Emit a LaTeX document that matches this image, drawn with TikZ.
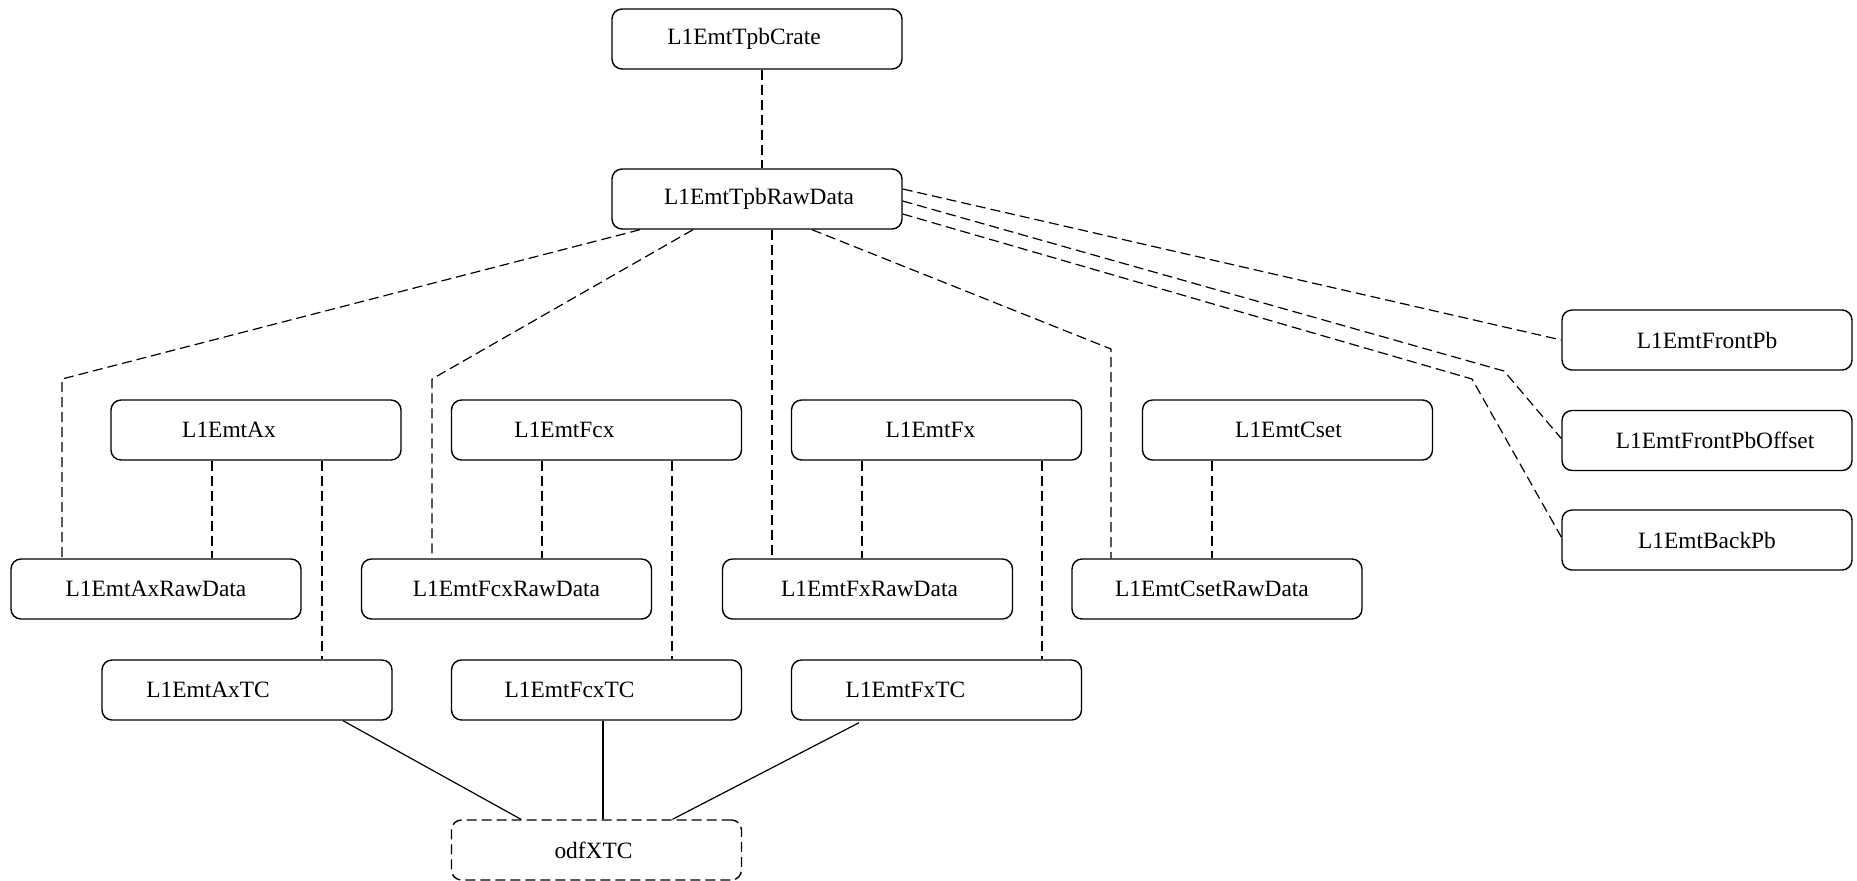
\documentclass[tikz,border=0pt]{standalone}
\usepackage{fontspec}
\setmainfont{Liberation Serif}
\usetikzlibrary{calc}
\tikzset{
  box/.style={draw, rounded corners=5pt, minimum width=145pt, minimum height=30pt, inner sep=0pt, line width=0.7pt},
  lbl/.style={font=\fontsize{11.7}{13}\selectfont, inner sep=0pt},
  dep/.style={draw, line width=0.6pt, dash pattern=on 5pt off 2.5pt},
  sol/.style={draw, line width=0.6pt},
  dbox/.style={box, dash pattern=on 5pt off 2.5pt}
}
\begin{document}
\begin{tikzpicture}[x=0.5pt,y=-0.5pt]
\useasboundingbox (0,0) rectangle (1857,880);
% nodes
\node[box,label={[lbl,xshift=-6.5pt]center:L1EmtTpbCrate}] (crate) at (757,39) {};
\node[box,label={[lbl,xshift=1pt]center:L1EmtTpbRawData}] (raw) at (757,199) {};
\node[box,label={[lbl,xshift=-13.5pt]center:L1EmtAx}] (ax) at (256,430) {};
\node[box,label={[lbl,xshift=-16pt]center:L1EmtFcx}] (fcx) at (596.5,430) {};
\node[box,label={[lbl,xshift=-3pt]center:L1EmtFx}] (fx) at (936.5,430) {};
\node[box,label={[lbl,xshift=0.5pt]center:L1EmtCset}] (cset) at (1287.5,430) {};
\node[box,label={[lbl]center:L1EmtAxRawData}] (axraw) at (156,589) {};
\node[box,label={[lbl]center:L1EmtFcxRawData}] (fcxraw) at (506.5,589) {};
\node[box,label={[lbl,xshift=1pt]center:L1EmtFxRawData}] (fxraw) at (867.5,589) {};
\node[box,label={[lbl,xshift=-2.5pt]center:L1EmtCsetRawData}] (csetraw) at (1217,589) {};
\node[box,label={[lbl,xshift=-19.5pt]center:L1EmtAxTC}] (axtc) at (247,690) {};
\node[box,label={[lbl,xshift=-13.5pt]center:L1EmtFcxTC}] (fcxtc) at (596.5,690) {};
\node[box,label={[lbl,xshift=-15.5pt]center:L1EmtFxTC}] (fxtc) at (936.5,690) {};
\node[dbox,label={[lbl,xshift=-1.5pt]center:odfXTC}] (odf) at (596.5,850) {};
\node[box,label={[lbl]center:L1EmtFrontPb}] (frontpb) at (1707,340) {};
\node[box,label={[lbl,xshift=4pt]center:L1EmtFrontPbOffset}] (frontpboff) at (1707,440.5) {};
\node[box,label={[lbl]center:L1EmtBackPb}] (backpb) at (1707,540) {};
% bend points
\coordinate (b1) at (62,379);
\coordinate (b2) at (432,379);
\coordinate (b3) at (1111,349);
\coordinate (b4) at (1504,371);
\coordinate (b5) at (1472,379);
% dashed connectors
\path[dep] ([xshift=2.5pt]crate.south) -- ([xshift=2.5pt]crate.south |- raw.north);
\path[dep] ([xshift=-58.5pt]raw.south) -- (b1) -- (b1 |- axraw.north);
\path[dep] ([xshift=-32pt]raw.south) -- (b2) -- (b2 |- fcxraw.north);
\path[dep] ([xshift=7.5pt]raw.south) -- ([xshift=7.5pt]raw.south |- fxraw.north);
\path[dep] ([xshift=27.5pt]raw.south) -- (b3) -- (b3 |- csetraw.north);
\path[dep] ([yshift=5pt]raw.east) -- (frontpb.west);
\path[dep] ([yshift=-1pt]raw.east) -- (b4) -- ([yshift=1pt]frontpboff.west);
\path[dep] ([yshift=-7.5pt]raw.east) -- (b5) -- ([yshift=1.5pt]backpb.west);
\path[dep] ([xshift=-22pt]ax.south) -- ([xshift=-22pt]ax.south |- axraw.north);
\path[dep] ([xshift=33pt]ax.south) -- ([xshift=33pt]ax.south |- axtc.north);
\path[dep] ([xshift=-27.25pt]fcx.south) -- ([xshift=-27.25pt]fcx.south |- fcxraw.north);
\path[dep] ([xshift=37.75pt]fcx.south) -- ([xshift=37.75pt]fcx.south |- fcxtc.north);
\path[dep] ([xshift=-37.25pt]fx.south) -- ([xshift=-37.25pt]fx.south |- fxraw.north);
\path[dep] ([xshift=52.75pt]fx.south) -- ([xshift=52.75pt]fx.south |- fxtc.north);
\path[dep] ([xshift=-37.75pt]cset.south) -- ([xshift=-37.75pt]cset.south |- csetraw.north);
% solid connectors
\path[sol] ([xshift=48pt]axtc.south) -- ([xshift=-37.75pt]odf.north);
\path[sol] ([xshift=3.25pt]fcxtc.south) -- ([xshift=3.25pt]fcxtc.south |- odf.north);
\path[sol] ([xshift=-38.75pt,yshift=-1pt]fxtc.south) -- ([xshift=38pt]odf.north);
\end{tikzpicture}
\end{document}
